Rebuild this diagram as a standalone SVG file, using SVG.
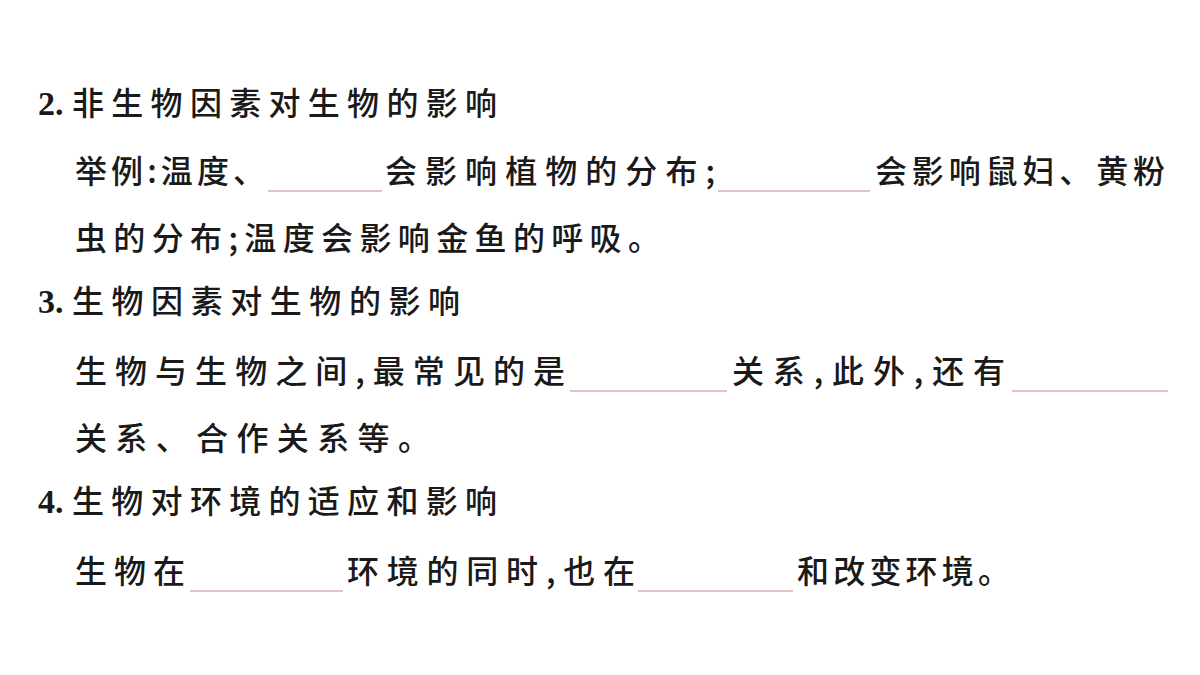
<svg xmlns="http://www.w3.org/2000/svg" width="1200" height="675" viewBox="0 0 1200 675">
<style>
text{font-family:"Noto Sans CJK SC","Noto Sans",sans-serif;font-size:32px;font-weight:500;fill:#1a1a1a}
.n{font-family:"Liberation Serif",serif;font-weight:bold;font-size:34px}
line{stroke:#e0a8b8;stroke-width:1.5}
</style>
<rect width="1200" height="675" fill="#fff"/>
<text x="38" y="115"><tspan class="n">2.</tspan><tspan x="72" textLength="425" lengthAdjust="spacing">非生物因素对生物的影响</tspan></text>
<text x="75" y="183" textLength="190" lengthAdjust="spacing">举例:温度、</text>
<line x1="268" y1="191" x2="382" y2="191"/>
<text x="385" y="183" textLength="330" lengthAdjust="spacing">会影响植物的分布;</text>
<line x1="718" y1="191" x2="870" y2="191"/>
<text x="875" y="183" textLength="290" lengthAdjust="spacing">会影响鼠妇、黄粉</text>
<text x="75" y="250" textLength="585" lengthAdjust="spacing">虫的分布;温度会影响金鱼的呼吸。</text>
<text x="38" y="313"><tspan class="n">3.</tspan><tspan x="72" textLength="388" lengthAdjust="spacing">生物因素对生物的影响</tspan></text>
<text x="75" y="383" textLength="490" lengthAdjust="spacing">生物与生物之间,最常见的是</text>
<line x1="570" y1="391" x2="727" y2="391"/>
<text x="732" y="383" textLength="273" lengthAdjust="spacing">关系,此外,还有</text>
<line x1="1012" y1="391" x2="1168" y2="391"/>
<text x="75" y="450" textLength="355" lengthAdjust="spacing">关系、合作关系等。</text>
<text x="38" y="513"><tspan class="n">4.</tspan><tspan x="72" textLength="425" lengthAdjust="spacing">生物对环境的适应和影响</tspan></text>
<text x="75" y="583" textLength="110" lengthAdjust="spacing">生物在</text>
<line x1="190" y1="591" x2="343" y2="591"/>
<text x="347" y="583" textLength="288" lengthAdjust="spacing">环境的同时,也在</text>
<line x1="638" y1="591" x2="793" y2="591"/>
<text x="797" y="583" textLength="213" lengthAdjust="spacing">和改变环境。</text>
</svg>
